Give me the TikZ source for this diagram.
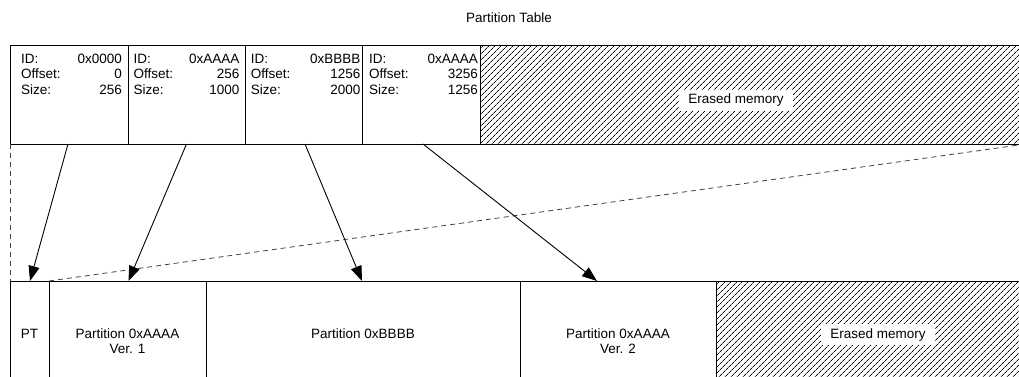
\documentclass[tikz,border=0pt]{standalone}
\usepackage{fontspec}
\setmainfont{Liberation Sans}
\usetikzlibrary{arrows.meta,patterns.meta}
\tikzset{
  cell/.style={draw=black, line width=1pt, anchor=north west, inner sep=0pt, outer sep=0pt},
  hatchcell/.style={cell, pattern={Lines[angle=45,distance=4pt,line width=0.8pt]}},
  txt/.style={inner sep=0pt, font=\fontsize{13.5}{15.5}\selectfont},
  erased/.style={txt, fill=white, inner xsep=9pt, inner ysep=4.5pt},
  ptr/.style={line width=0.9pt, -{Triangle[length=15pt,width=11pt]}},
  guide/.style={line width=0.8pt, black!75, dash pattern=on 5pt off 4pt}
}
\begin{document}
\begin{tikzpicture}[x=1pt,y=-1pt]
\useasboundingbox (0,0) rectangle (1019,377);
\clip (0,0) rectangle (1019,377);
% title
\node[txt, anchor=base] (title) at (509,23) {Partition Table};
% top table
\node[cell, minimum width=118pt, minimum height=98pt] (t1) at (10,46) {};
\node[cell, minimum width=117pt, minimum height=98pt] (t2) at (128,46) {};
\node[cell, minimum width=117pt, minimum height=98pt] (t3) at (245,46) {};
\node[cell, minimum width=118pt, minimum height=98pt] (t4) at (362,46) {};
\node[hatchcell, minimum width=539pt, minimum height=98pt] (tE) at (480,46) {};
\node[erased, anchor=base] (tEl) at (736,104) {Erased memory};
% entries
\node[txt, anchor=base west] (t1a) at (21,63.5) {ID:};
\node[txt, anchor=base west] (t1b) at (21,79) {Offset:};
\node[txt, anchor=base west] (t1c) at (21,94.5) {Size:};
\node[txt, anchor=base east] (t1d) at (122,63.5) {0x0000};
\node[txt, anchor=base east] (t1e) at (122,79) {0};
\node[txt, anchor=base east] (t1f) at (122,94.5) {256};
\node[txt, anchor=base west] (t2a) at (133.5,63.5) {ID:};
\node[txt, anchor=base west] (t2b) at (133.5,79) {Offset:};
\node[txt, anchor=base west] (t2c) at (133.5,94.5) {Size:};
\node[txt, anchor=base east] (t2d) at (239.5,63.5) {0xAAAA};
\node[txt, anchor=base east] (t2e) at (239.5,79) {256};
\node[txt, anchor=base east] (t2f) at (239.5,94.5) {1000};
\node[txt, anchor=base west] (t3a) at (250.7,63.5) {ID:};
\node[txt, anchor=base west] (t3b) at (250.7,79) {Offset:};
\node[txt, anchor=base west] (t3c) at (250.7,94.5) {Size:};
\node[txt, anchor=base east] (t3d) at (360.7,63.5) {0xBBBB};
\node[txt, anchor=base east] (t3e) at (360.7,79) {1256};
\node[txt, anchor=base east] (t3f) at (360.7,94.5) {2000};
\node[txt, anchor=base west] (t4a) at (369,63.5) {ID:};
\node[txt, anchor=base west] (t4b) at (369,79) {Offset:};
\node[txt, anchor=base west] (t4c) at (369,94.5) {Size:};
\node[txt, anchor=base east] (t4d) at (478,63.5) {0xAAAA};
\node[txt, anchor=base east] (t4e) at (478,79) {3256};
\node[txt, anchor=base east] (t4f) at (478,94.5) {1256};
% bottom memory row
\node[cell, minimum width=39pt, minimum height=130pt] (b1) at (10,281) {};
\node[cell, minimum width=157pt, minimum height=130pt] (b2) at (49,281) {};
\node[cell, minimum width=314pt, minimum height=130pt] (b3) at (206,281) {};
\node[cell, minimum width=196pt, minimum height=130pt] (b4) at (520,281) {};
\node[hatchcell, minimum width=320pt, minimum height=130pt] (bE) at (716,281) {};
\node[txt, anchor=base] (b1l) at (29.5,338) {PT};
\node[txt, anchor=base] (b2l) at (127.5,338) {Partition 0xAAAA};
\node[txt, anchor=base] (b2v) at (127.5,353) {Ver. 1};
\node[txt, anchor=base] (b3l) at (363,338) {Partition 0xBBBB};
\node[txt, anchor=base] (b4l) at (618,338) {Partition 0xAAAA};
\node[txt, anchor=base] (b4v) at (618,353) {Ver. 2};
\node[erased, anchor=base] (bEl) at (878,338) {Erased memory};
% connector end points
\coordinate (s1) at (68,144);
\coordinate (s2) at (186.5,144);
\coordinate (s3) at (305,144);
\coordinate (s4) at (423,144);
\coordinate (e1) at (30,281);
\coordinate (e2) at (128.5,281);
\coordinate (e3) at (362,281);
\coordinate (e4) at (597,281);
\coordinate (tr) at (1019,145);
% guides
\draw[guide] (t1.south west) -- (b1.north west);
\draw[guide] (b1.north east) -- (tr);
% pointers
\draw[ptr] (s1) -- (e1);
\draw[ptr] (s2) -- (e2);
\draw[ptr] (s3) -- (e3);
\draw[ptr] (s4) -- (e4);
\end{tikzpicture}
\end{document}
